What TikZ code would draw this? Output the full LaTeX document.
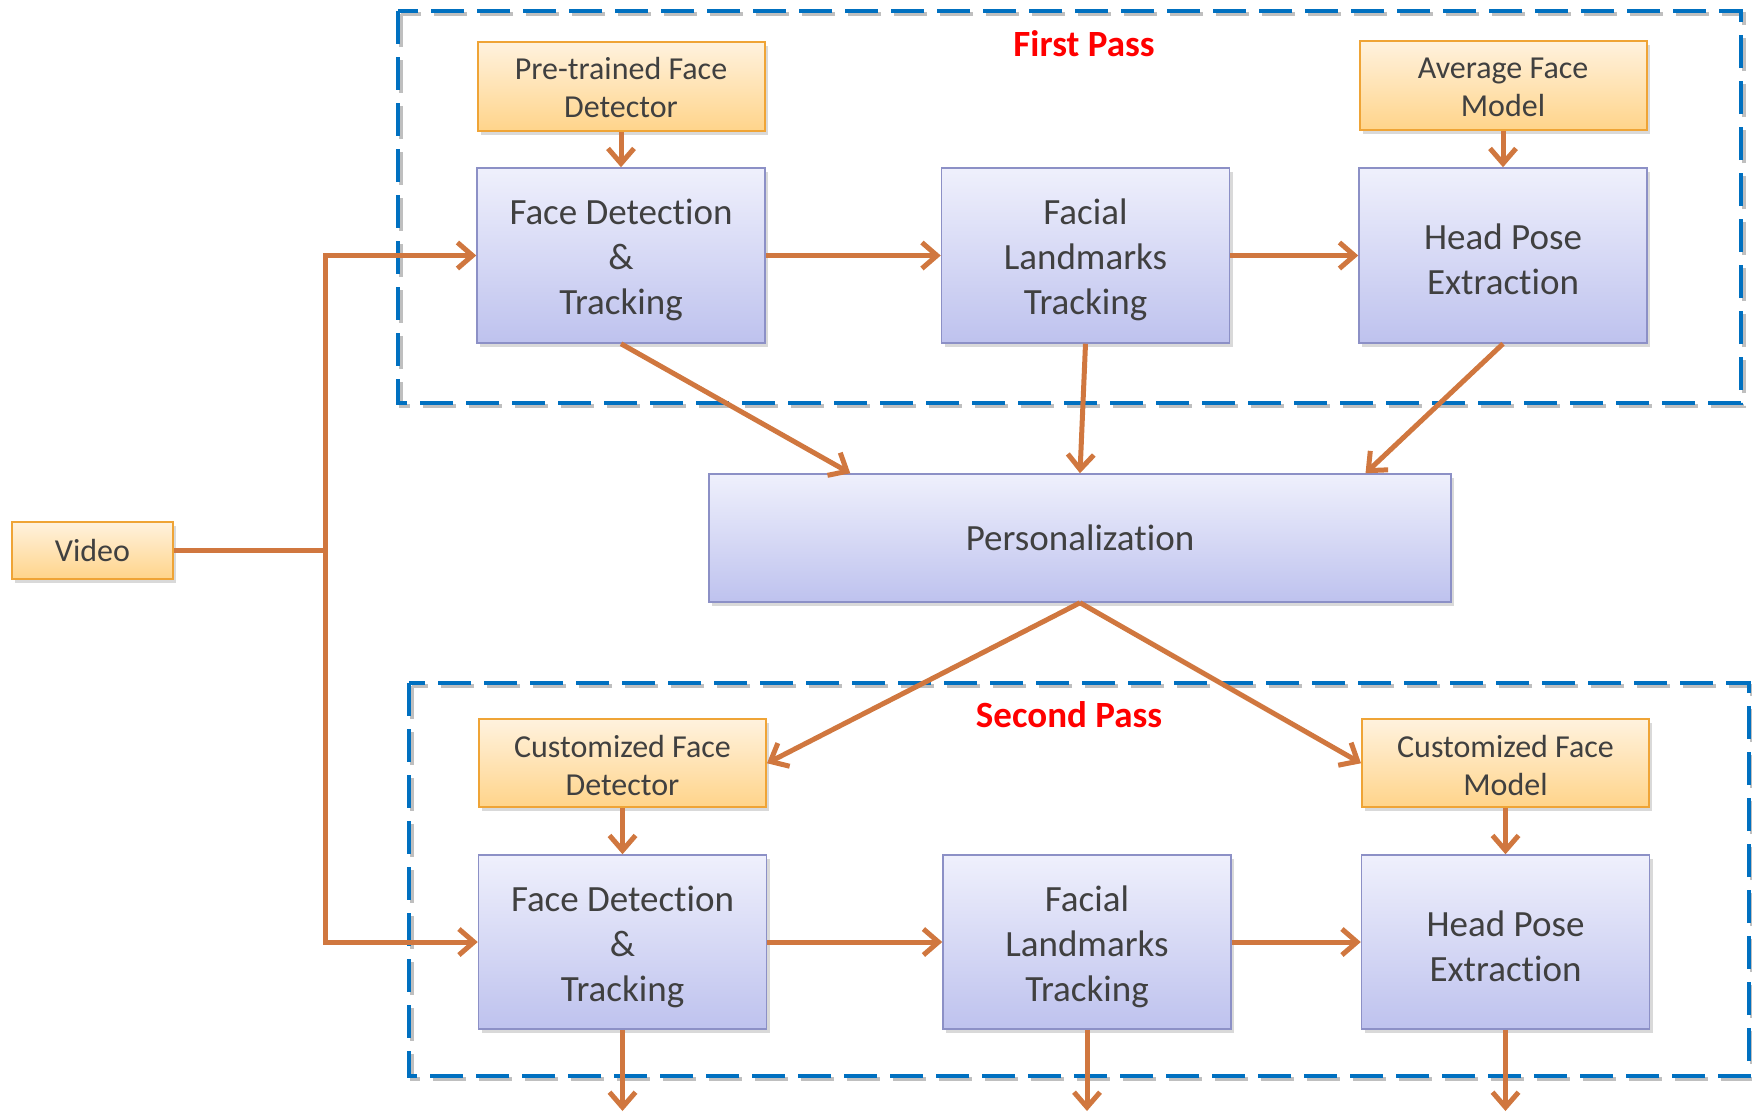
\documentclass[tikz,border=0pt]{standalone}
\usepackage{fontspec}
\setmainfont{Carlito}[Ligatures=NoCommon]
\usetikzlibrary{arrows.meta,positioning,shadows,calc}
\definecolor{linkc}{HTML}{D0773F}
\definecolor{passblue}{HTML}{0070C0}
\definecolor{textgray}{HTML}{404040}
\definecolor{stageline}{HTML}{8C90C6}
\definecolor{stagetop}{HTML}{EFF0FC}
\definecolor{stagebot}{HTML}{BEC2EE}
\definecolor{srcline}{HTML}{EFA436}
\definecolor{srctop}{HTML}{FFF2DE}
\definecolor{srcbot}{HTML}{FFD48A}
% taller first line, so that multi-line text sits a little lower in its box
\newcommand\topstrut[1][.94]{\rule{0pt}{#1em}}
\tikzset{
  basic/.style    = {draw, rectangle, inner sep=0pt, align=center, text=textgray,
                     drop shadow={shadow xshift=3pt, shadow yshift=-4pt, opacity=.3}},
  stage/.style    = {basic, line width=1.5pt, draw=stageline,
                     top color=stagetop, bottom color=stagebot,
                     minimum width=288pt, minimum height=175pt,
                     font=\fontsize{37}{45}\selectfont},
  source/.style   = {basic, line width=2pt, draw=srcline,
                     top color=srctop, bottom color=srcbot,
                     minimum width=287pt, minimum height=89pt,
                     font=\fontsize{32}{38}\selectfont},
  passbox/.style  = {line width=4pt, dash pattern=on 33pt off 13pt},
  passlabel/.style = {text=red, font=\bfseries\fontsize{37}{44}\selectfont},
  wire/.style     = {draw=linkc, line width=5pt},
  link/.style     = {wire, -{Straight Barb[length=15pt,width=26pt]}}
}

\begin{document}
\begin{tikzpicture}[x=1pt, y=-1pt]
\useasboundingbox (0,0) rectangle (1752,1114);

% dashed frames of the two passes
\foreach \c/\dx in {black!25/3, passblue/0} {
  \draw[passbox, draw=\c, xshift=\dx pt, yshift=-\dx pt] (398,11) rectangle (1741,403);
  \draw[passbox, draw=\c, xshift=\dx pt, yshift=-\dx pt] (409,683) rectangle (1749,1076);
}
\node[passlabel] (title1) at (1084,44) {First Pass};
\node[passlabel] (title2) at (1069,715) {Second Pass};

% first pass
\node[stage] (fd1) at (621,255.5) {\topstrut Face Detection\\\&\\Tracking};
\node[stage, right=175pt of fd1] (fl1) {\topstrut Facial\\Landmarks\\Tracking};
\node[stage, right=128pt of fl1] (hp1) {\topstrut[.9]Head Pose\\Extraction};
\node[source, above=35pt of fd1] (prefd) {\topstrut[.75]Pre-trained Face\\Detector};
\node[source, above=36pt of hp1] (avg) {\topstrut[.72]Average Face\\Model};

\node[stage, minimum width=742pt, minimum height=128pt] (pers) at (1080,538) {Personalization};

\node[source, minimum width=161pt, minimum height=57pt] (video) at (92.5,550.5) {Video};

% second pass
\node[stage, minimum height=174pt] (fd2) at (622.5,942) {\topstrut Face Detection\\\&\\Tracking};
\node[stage, minimum height=174pt, right=175pt of fd2] (fl2) {\topstrut Facial\\Landmarks\\Tracking};
\node[stage, minimum height=174pt, right=129pt of fl2] (hp2) {\topstrut[.9]Head Pose\\Extraction};
\node[source, minimum height=88pt, above=46pt of fd2] (cfd) {\topstrut[.85]Customized Face\\Detector};
\node[source, minimum height=88pt, above=46pt of hp2] (cfm) {\topstrut[.85]Customized Face\\Model};

% connectors
\coordinate (split) at (325,550.5);
\coordinate (bottom) at (0,1111);
\draw[wire] (video) -- (split);
\draw[link] (split) |- (fd1);
\draw[link] (split) |- (fd2);

\foreach \a/\b in {fd1/fl1, fl1/hp1, fd2/fl2, fl2/hp2, prefd/fd1, avg/hp1, cfd/fd2, cfm/hp2}
  \draw[link] (\a) -- (\b);

\draw[link] (fd1.south) -- ($(pers.north west)!0.191!(pers.north east)$);
\draw[link] (fl1.south) -- (pers.north);
\draw[link] (hp1.south) -- ($(pers.north west)!0.884!(pers.north east)$);

\draw[link] (pers.south) -- (cfd.east);
\draw[link] (pers.south) -- (cfm.west);

\foreach \n in {fd2, fl2, hp2}
  \draw[link] (\n.south) -- (\n.south |- bottom);
\end{tikzpicture}
\end{document}
